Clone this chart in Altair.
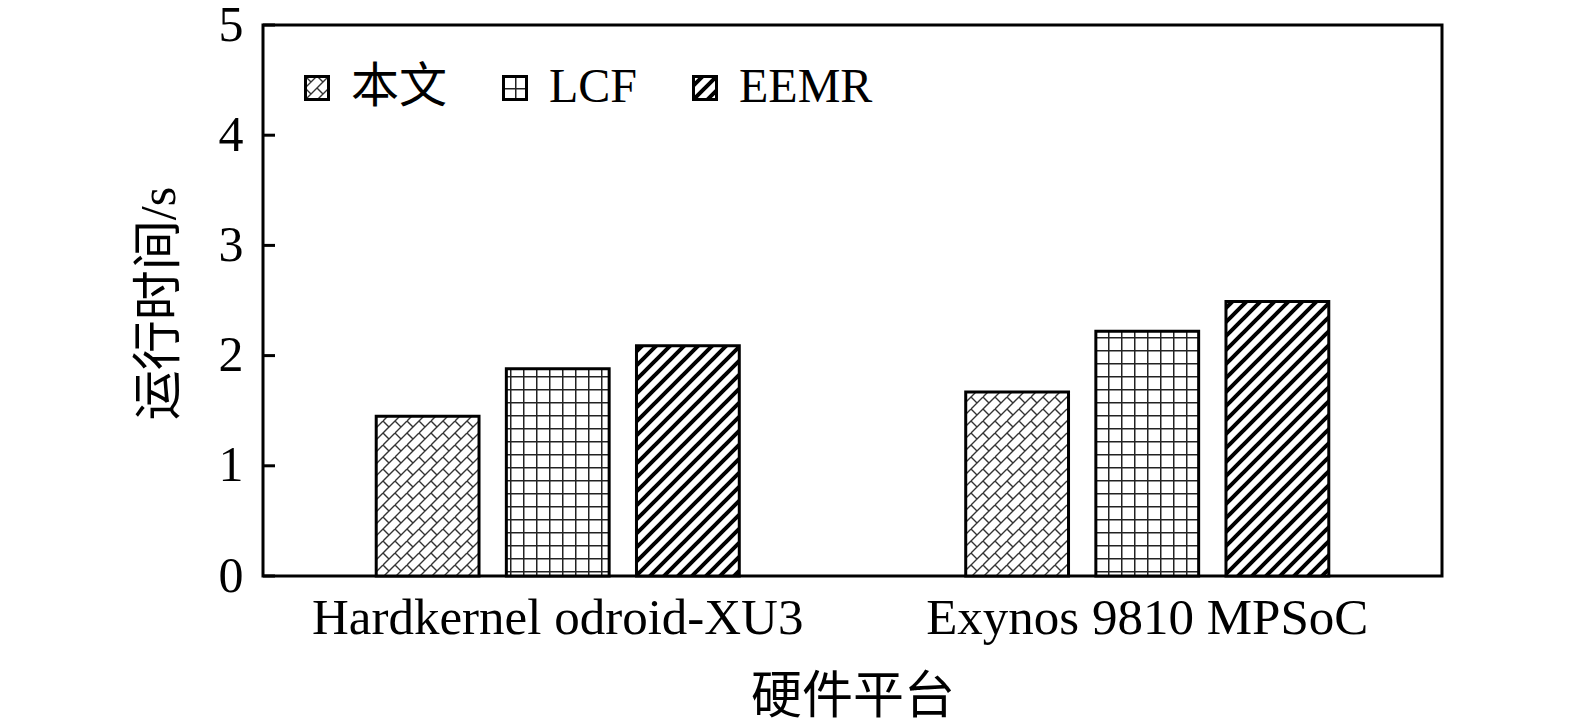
import altair as alt
import pandas as pd
import jinja2

# ---------------- data ----------------
platforms = ["Hardkernel odroid-XU3", "Exynos 9810 MPSoC"]
methods = ["本文", "LCF", "EEMR"]
vals_ben = [1.45, 1.67]
vals_lcf = [1.88, 2.22]
vals_eemr = [2.09, 2.49]
y_ticks = [0, 1, 2, 3, 4, 5]

rows = []
for m, vs in zip(methods, [vals_ben, vals_lcf, vals_eemr]):
    for p, v in zip(platforms, vs):
        rows.append({"platform": p, "method": m, "value": v})
df = pd.DataFrame(rows)
tick_df = pd.DataFrame({"t": y_ticks})

FONT = "Liberation Serif, Noto Sans CJK SC"
patterns = ["url(#p_ben)", "url(#p_lcf)", "url(#p_eemr)"]

yscale = alt.Scale(domain=[0, 5], nice=False)

bars = alt.Chart(df).mark_bar(stroke="black", strokeWidth=3).encode(
    x=alt.X("platform:N", sort=platforms,
            scale=alt.Scale(paddingInner=0, paddingOuter=0),
            axis=alt.Axis(title="硬件平台", labelAngle=0, labelFontSize=51, labelLimit=0,
                          labelPadding=17, ticks=False, domain=False,
                          titleFontSize=51, titleY=121, titleBaseline="middle",
                          titleFontWeight="normal", labelColor="black", titleColor="black")),
    xOffset=alt.XOffset("method:N", sort=methods,
                        scale=alt.Scale(domain=methods, paddingInner=0.21, paddingOuter=0.87)),
    y=alt.Y("value:Q", scale=yscale,
            axis=alt.Axis(title="运行时间/s", values=y_ticks, format="d", labelFontSize=50,
                          labelPadding=20, ticks=False, domain=False, grid=False,
                          titleFontSize=50, titleX=-104, titleY=278,
                          titleBaseline="middle", titleAlign="center", titleAngle=270,
                          titleFontWeight="normal", labelColor="black", titleColor="black")),
    color=alt.Color("method:N", sort=methods,
                    scale=alt.Scale(domain=methods, range=patterns),
                    legend=alt.Legend(title=None, orient="none", direction="horizontal",
                                      legendX=30, legendY=39, symbolType="square",
                                      symbolSize=529, symbolStrokeWidth=3,
                                      symbolStrokeColor="black", symbolOpacity=1,
                                      labelFontSize=48, labelOffset=10, columnPadding=43,
                                      padding=0, labelColor="black")),
)

ticks = alt.Chart(tick_df).mark_rule(color="black", strokeWidth=3).encode(
    y=alt.Y("t:Q", scale=yscale),
    x=alt.value(0),
    x2=alt.value(12),
)

chart = alt.layer(bars, ticks).properties(
    width=1179, height=551,
    autosize=alt.AutoSizeParams(type="none"),
    padding={"left": 263, "top": 25, "right": 20, "bottom": 150},
).configure(font=FONT, background="white").configure_view(
    stroke="black", strokeWidth=3
)

DEFS = """<svg width="0" height="0" style="position:absolute" aria-hidden="true"><defs>
<pattern id="p_ben" patternUnits="userSpaceOnUse" width="24" height="24">
<rect width="24" height="24" fill="white"/>
<path d="M0,12 L12,0 M0,24 L24,0 M12,24 L24,12 M-1,1 L1,-1 M23,25 L25,23 M0,0 L6,6 M12,12 L18,18 M0,12 L6,18 M12,0 L18,6" stroke="#333" stroke-width="1.4" fill="none"/>
</pattern>
<pattern id="p_lcf" patternUnits="userSpaceOnUse" width="13" height="13">
<rect width="13" height="13" fill="white"/>
<path d="M0,0.75 L13,0.75 M0.75,0 L0.75,13" stroke="#222" stroke-width="1.5" fill="none"/>
</pattern>
<pattern id="p_eemr" patternUnits="userSpaceOnUse" width="14" height="14">
<rect width="14" height="14" fill="white"/>
<path d="M-1,15 L15,-1 M-8,8 L8,-8 M6,22 L22,6" stroke="black" stroke-width="4" fill="none"/>
</pattern>
</defs></svg>"""

TEMPLATE = jinja2.Template("""<!DOCTYPE html>
<html>
<head>
  <meta charset="utf-8">
  <style>
    body { margin: 0; }
    #{{ output_div }}.vega-embed { width: 100%; display: flex; }
  </style>
  <script type="text/javascript" src="{{ base_url }}/vega@{{ vega_version }}"></script>
  <script type="text/javascript" src="{{ base_url }}/vega-lite@{{ vegalite_version }}"></script>
  <script type="text/javascript" src="{{ base_url }}/vega-embed@{{ vegaembed_version }}"></script>
</head>
<body>
""" + DEFS + """
  <div id="{{ output_div }}"></div>
  <script>
    (function(vegaEmbed) {
      var spec = {{ spec }};
      var embedOpt = {{ embed_options }};
      vegaEmbed("#{{ output_div }}", spec, embedOpt).catch(function(e){
        document.getElementById('{{ output_div }}').innerHTML = '<p style="color:red">' + e.message + '</p>';
      });
    })(vegaEmbed);
  </script>
</body>
</html>
""")

chart.save("out.html", embed_options={"renderer": "svg", "actions": False}, template=TEMPLATE)
